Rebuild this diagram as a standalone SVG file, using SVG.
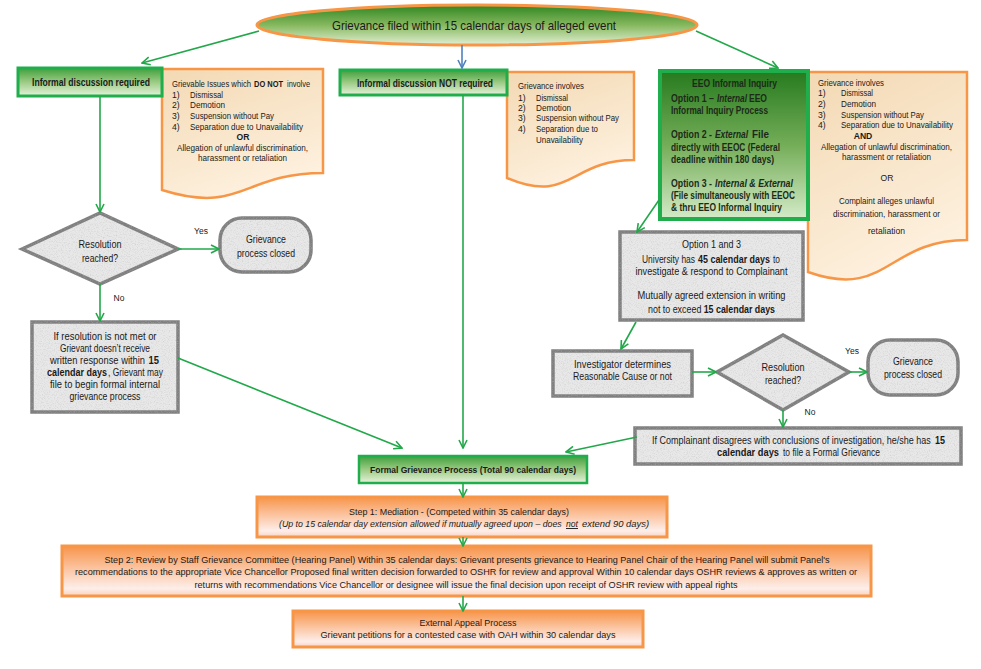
<svg xmlns="http://www.w3.org/2000/svg" width="981" height="669" viewBox="0 0 981 669">
<defs>
<style>
text{font-family:"Liberation Sans",Arial,sans-serif;fill:#1a1a1a}
.c{text-anchor:middle}
.b{font-weight:bold}
.i{font-style:italic}
.u{text-decoration:underline}
.f8{font-size:8.6px}
.f9{font-size:9.4px}
.f10{font-size:10.3px}
.eeo{font-size:10.3px;font-weight:bold;fill:#1c2a18}
.doc{fill:url(#gDoc);stroke:#f79646;stroke-width:2.5}
.gbox{fill:url(#gGreen);stroke:#1fae4b;stroke-width:3}
.gray{fill:#e8e8e8;stroke:#7f7f7f;stroke-width:3.5;filter:url(#tex)}
.orng{fill:url(#gOrange);stroke:#f79646;stroke-width:3}
.con{fill:none;stroke:#22a84a;stroke-width:1.6;marker-end:url(#ah)}
</style>
<linearGradient id="gGreen" x1="0" y1="0" x2="0" y2="1">
<stop offset="0" stop-color="#3f9f3c"/><stop offset="0.5" stop-color="#9ccb84"/><stop offset="1" stop-color="#e6f2dc"/>
</linearGradient>
<linearGradient id="gEll" x1="0" y1="0" x2="0" y2="1">
<stop offset="0" stop-color="#2f8521"/><stop offset="0.5" stop-color="#86b85e"/><stop offset="1" stop-color="#e2efd4"/>
</linearGradient>
<linearGradient id="gEEO" x1="0" y1="0" x2="0" y2="1">
<stop offset="0" stop-color="#267a1e"/><stop offset="0.5" stop-color="#74ad58"/><stop offset="1" stop-color="#d4ebc8"/>
</linearGradient>
<linearGradient id="gDoc" x1="0" y1="0" x2="0.4" y2="1">
<stop offset="0" stop-color="#f3d9b4"/><stop offset="1" stop-color="#fdf0dd"/>
</linearGradient>
<linearGradient id="gOrange" x1="0" y1="0" x2="0" y2="1">
<stop offset="0" stop-color="#f7944a"/><stop offset="0.45" stop-color="#fbc4a0"/><stop offset="0.85" stop-color="#fdeeea"/><stop offset="1" stop-color="#fad2bd"/>
</linearGradient>
<filter id="tex" x="-5%" y="-5%" width="110%" height="110%">
<feTurbulence type="fractalNoise" baseFrequency="0.85" numOctaves="3" seed="7" result="n"/>
<feColorMatrix in="n" type="matrix" values="0 0 0 0 0.45  0 0 0 0 0.45  0 0 0 0 0.45  1.0 0 0 0 -0.45" result="s"/>
<feComposite in="s" in2="SourceGraphic" operator="in" result="sc"/>
<feMerge><feMergeNode in="SourceGraphic"/><feMergeNode in="sc"/></feMerge>
</filter>
<marker id="ah" viewBox="0 0 10 10" refX="9" refY="5" markerWidth="10" markerHeight="10" markerUnits="userSpaceOnUse" orient="auto">
<path d="M1,1 L9,5 L1,9" fill="none" stroke="#22a84a" stroke-width="1.6"/>
</marker>
<marker id="ahB" viewBox="0 0 10 10" refX="9" refY="5" markerWidth="10" markerHeight="10" markerUnits="userSpaceOnUse" orient="auto">
<path d="M1,1 L9,5 L1,9" fill="none" stroke="#4f81bd" stroke-width="1.6"/>
</marker>
</defs>
<rect width="981" height="669" fill="#ffffff"/>

<g id="start">
<ellipse cx="477" cy="25" rx="220" ry="20" fill="url(#gEll)" stroke="#f79646" stroke-width="3"/>
<text class="c" x="474" y="29.5" font-size="13" textLength="284" lengthAdjust="spacingAndGlyphs">Grievance filed within 15 calendar days of alleged event</text>
</g>

<g id="doc1">
<path class="doc" d="M162,69 H323 V173 C242,173 242,215 162,190 Z"/>
<text class="f8" transform="translate(172,87) scale(0.83,1)" textLength="95.2" lengthAdjust="spacingAndGlyphs">Grievable Issues which</text>
<text class="f8 b" transform="translate(254,87) scale(0.8,1)" textLength="36.3" lengthAdjust="spacingAndGlyphs">DO NOT</text>
<text class="f8" transform="translate(287,87) scale(0.79,1)" textLength="29.1" lengthAdjust="spacingAndGlyphs">involve</text>
<text class="f8" x="172" y="98">1)</text><text class="f8" x="190" y="98" textLength="33" lengthAdjust="spacingAndGlyphs">Dismissal</text>
<text class="f8" x="172" y="108">2)</text><text class="f8" x="190" y="108" textLength="35" lengthAdjust="spacingAndGlyphs">Demotion</text>
<text class="f8" x="172" y="119">3)</text><text class="f8" x="190" y="119" textLength="84" lengthAdjust="spacingAndGlyphs">Suspension without Pay</text>
<text class="f8" x="172" y="130">4)</text><text class="f8" x="190" y="130" textLength="113" lengthAdjust="spacingAndGlyphs">Separation due to Unavailability</text>
<text class="f8 c b" x="243" y="140">OR</text>
<text class="f8 c" x="242.5" y="151" textLength="131" lengthAdjust="spacingAndGlyphs">Allegation of unlawful discrimination,</text>
<text class="f8 c" x="242.5" y="161" textLength="89" lengthAdjust="spacingAndGlyphs">harassment or retaliation</text>
</g>

<g id="informal-required">
<rect class="gbox" x="18" y="68" width="144" height="28"/>
<text class="c b" x="91" y="85.5" font-size="10" textLength="118" lengthAdjust="spacingAndGlyphs">Informal discussion required</text>
</g>

<g id="doc2">
<path class="doc" d="M507,72 H634 V160 C570,160 570,205 507,178 Z"/>
<text class="f8" x="518" y="89" textLength="66" lengthAdjust="spacingAndGlyphs">Grievance involves</text>
<text class="f8" x="518" y="101">1)</text><text class="f8" x="536" y="101" textLength="32" lengthAdjust="spacingAndGlyphs">Dismissal</text>
<text class="f8" x="518" y="111">2)</text><text class="f8" x="536" y="111" textLength="35" lengthAdjust="spacingAndGlyphs">Demotion</text>
<text class="f8" x="518" y="121">3)</text><text class="f8" x="536" y="121" textLength="83" lengthAdjust="spacingAndGlyphs">Suspension without Pay</text>
<text class="f8" x="518" y="132">4)</text><text class="f8" x="536" y="132" textLength="62" lengthAdjust="spacingAndGlyphs">Separation due to</text>
<text class="f8" x="536" y="143" textLength="47" lengthAdjust="spacingAndGlyphs">Unavailability</text>
</g>

<g id="informal-not-required">
<rect class="gbox" x="340" y="70" width="167" height="25"/>
<text class="c b" x="425" y="86.5" font-size="10" textLength="136" lengthAdjust="spacingAndGlyphs">Informal discussion NOT required</text>
</g>

<g id="doc3">
<path class="doc" d="M808,72 H967 V240 C887,240 887,300 808,272 Z"/>
<text class="f8" x="818" y="86" textLength="66" lengthAdjust="spacingAndGlyphs">Grievance involves</text>
<text class="f8" x="818" y="96">1)</text><text class="f8" x="841" y="96" textLength="32" lengthAdjust="spacingAndGlyphs">Dismissal</text>
<text class="f8" x="818" y="107">2)</text><text class="f8" x="841" y="107" textLength="35" lengthAdjust="spacingAndGlyphs">Demotion</text>
<text class="f8" x="818" y="118">3)</text><text class="f8" x="841" y="118" textLength="83" lengthAdjust="spacingAndGlyphs">Suspension without Pay</text>
<text class="f8" x="818" y="128">4)</text><text class="f8" x="841" y="128" textLength="112" lengthAdjust="spacingAndGlyphs">Separation due to Unavailability</text>
<text class="f8 c b" x="863" y="139">AND</text>
<text class="f8 c" x="886.5" y="150" textLength="131" lengthAdjust="spacingAndGlyphs">Allegation of unlawful discrimination,</text>
<text class="f8 c" x="886.5" y="160" textLength="89" lengthAdjust="spacingAndGlyphs">harassment or retaliation</text>
<text class="f8 c" x="887" y="181">OR</text>
<text class="f8 c" x="886.5" y="204" textLength="95" lengthAdjust="spacingAndGlyphs">Complaint alleges unlawful</text>
<text class="f8 c" x="886.5" y="217" textLength="107" lengthAdjust="spacingAndGlyphs">discrimination, harassment or</text>
<text class="f8 c" x="886.5" y="234" textLength="37" lengthAdjust="spacingAndGlyphs">retaliation</text>
</g>

<g id="eeo">
<rect x="660" y="71" width="148" height="148" fill="url(#gEEO)" stroke="#1fae4b" stroke-width="4"/>
<text class="eeo c" x="734.5" y="87" textLength="85" lengthAdjust="spacingAndGlyphs">EEO Informal Inquiry</text>
<text class="eeo" transform="translate(671,102) scale(0.785,1)" textLength="54.8" lengthAdjust="spacingAndGlyphs">Option 1 –</text>
<text class="eeo i" transform="translate(717,102) scale(0.74,1)" textLength="40.5" lengthAdjust="spacingAndGlyphs">Internal</text>
<text class="eeo" transform="translate(749,102) scale(0.76,1)" textLength="23.7" lengthAdjust="spacingAndGlyphs">EEO</text>
<text class="eeo" x="671" y="114" textLength="97" lengthAdjust="spacingAndGlyphs">Informal Inquiry Process</text>
<text class="eeo" transform="translate(671,138) scale(0.785,1)" textLength="52.2" lengthAdjust="spacingAndGlyphs">Option 2 -</text>
<text class="eeo i" transform="translate(715,138) scale(0.745,1)" textLength="44.3" lengthAdjust="spacingAndGlyphs">External</text>
<text class="eeo" transform="translate(752,138) scale(0.88,1)" textLength="19.3" lengthAdjust="spacingAndGlyphs">File</text>
<text class="eeo" x="671" y="151" textLength="109" lengthAdjust="spacingAndGlyphs">directly with EEOC (Federal</text>
<text class="eeo" x="671" y="163" textLength="103" lengthAdjust="spacingAndGlyphs">deadline within 180 days)</text>
<text class="eeo" transform="translate(671,187) scale(0.785,1)" textLength="52.2" lengthAdjust="spacingAndGlyphs">Option 3 -</text>
<text class="eeo i" transform="translate(715,187) scale(0.79,1)" textLength="98.7" lengthAdjust="spacingAndGlyphs">Internal &amp; External</text>
<text class="eeo" x="671" y="199" textLength="124" lengthAdjust="spacingAndGlyphs">(File simultaneously with EEOC</text>
<text class="eeo" x="671" y="211" textLength="111" lengthAdjust="spacingAndGlyphs">&amp; thru EEO Informal Inquiry</text>
</g>

<g id="decision1">
<polygon class="gray" points="22,249 100,213 178,249 100,284"/>
<text class="f10 c" x="100" y="248" textLength="43" lengthAdjust="spacingAndGlyphs">Resolution</text>
<text class="f10 c" x="100" y="262" textLength="36" lengthAdjust="spacingAndGlyphs">reached?</text>
</g>

<g id="closed1">
<rect class="gray" x="220" y="218" width="91" height="54" rx="22"/>
<text class="f10 c" x="266" y="243" textLength="40" lengthAdjust="spacingAndGlyphs">Grievance</text>
<text class="f10 c" x="266" y="257" textLength="58" lengthAdjust="spacingAndGlyphs">process closed</text>
</g>

<g id="no-resolution">
<rect class="gray" x="32" y="322" width="146" height="90" stroke-width="4"/>
<text class="f10 c" x="105" y="340" textLength="103" lengthAdjust="spacingAndGlyphs">If resolution is not met or</text>
<text class="f10 c" x="105" y="352" textLength="90" lengthAdjust="spacingAndGlyphs">Grievant doesn’t receive</text>
<text class="f10" transform="translate(50,364) scale(0.835,1)" textLength="113.8" lengthAdjust="spacingAndGlyphs">written response within</text>
<text class="f10 b" transform="translate(148.5,364) scale(0.8,1)" textLength="13.1" lengthAdjust="spacingAndGlyphs">15</text>
<text class="f10 b" transform="translate(47,376) scale(0.8,1)" textLength="75" lengthAdjust="spacingAndGlyphs">calendar days</text>
<text class="f10" transform="translate(108,376) scale(0.755,1)" textLength="72.8" lengthAdjust="spacingAndGlyphs">, Grievant may</text>
<text class="f10 c" x="105" y="388" textLength="110" lengthAdjust="spacingAndGlyphs">file to begin formal internal</text>
<text class="f10 c" x="105" y="400" textLength="71" lengthAdjust="spacingAndGlyphs">grievance process</text>
</g>

<g id="option13">
<rect class="gray" x="620" y="232" width="183" height="88" stroke-width="4"/>
<text class="f10 c" x="711.5" y="248" textLength="59" lengthAdjust="spacingAndGlyphs">Option 1 and 3</text>
<text class="f10" transform="translate(642,263) scale(0.754,1)" textLength="70.3" lengthAdjust="spacingAndGlyphs">University has</text>
<text class="f10 b" transform="translate(698,263) scale(0.742,1)" textLength="97" lengthAdjust="spacingAndGlyphs">45 calendar days</text>
<text class="f10" transform="translate(773,263) scale(0.75,1)" textLength="9.3" lengthAdjust="spacingAndGlyphs">to</text>
<text class="f10 c" x="711.5" y="275" textLength="152" lengthAdjust="spacingAndGlyphs">investigate &amp; respond to Complainant</text>
<text class="f10 c" x="711.5" y="299" textLength="148" lengthAdjust="spacingAndGlyphs">Mutually agreed extension in writing</text>
<text class="f10" transform="translate(648,313) scale(0.79,1)" textLength="67.5" lengthAdjust="spacingAndGlyphs">not to exceed</text>
<text class="f10 b" transform="translate(703.7,313) scale(0.79,1)" textLength="90.3" lengthAdjust="spacingAndGlyphs">15 calendar days</text>
</g>

<g id="investigator">
<rect class="gray" x="553" y="351" width="139" height="45"/>
<text class="f10 c" x="622.5" y="368" textLength="97" lengthAdjust="spacingAndGlyphs">Investigator determines</text>
<text class="f10 c" x="622.5" y="380" textLength="99" lengthAdjust="spacingAndGlyphs">Reasonable Cause or not</text>
</g>

<g id="decision2">
<polygon class="gray" points="717,372 783,335 849,372 783,410"/>
<text class="f10 c" x="783" y="371" textLength="43" lengthAdjust="spacingAndGlyphs">Resolution</text>
<text class="f10 c" x="783" y="384" textLength="36" lengthAdjust="spacingAndGlyphs">reached?</text>
</g>

<g id="closed2">
<rect class="gray" x="868" y="340" width="90" height="55" rx="22"/>
<text class="f10 c" x="913" y="365" textLength="40" lengthAdjust="spacingAndGlyphs">Grievance</text>
<text class="f10 c" x="913" y="378" textLength="58" lengthAdjust="spacingAndGlyphs">process closed</text>
</g>

<g id="complainant">
<rect class="gray" x="635" y="428" width="326" height="36" stroke-width="4"/>
<text class="f10" transform="translate(652,444) scale(0.77,1)" textLength="362" lengthAdjust="spacingAndGlyphs">If Complainant disagrees with conclusions of investigation, he/she has</text>
<text class="f10 b" transform="translate(935,444) scale(0.75,1)" textLength="13.3" lengthAdjust="spacingAndGlyphs">15</text>
<text class="f10 b" transform="translate(717,456) scale(0.83,1)" textLength="74.7" lengthAdjust="spacingAndGlyphs">calendar days</text>
<text class="f10" transform="translate(783,456) scale(0.74,1)" textLength="131" lengthAdjust="spacingAndGlyphs">to file a Formal Grievance</text>
</g>

<g id="formal">
<rect x="359" y="456" width="228" height="27" fill="url(#gGreen)" stroke="#1fae4b" stroke-width="2.5"/>
<text class="f9 c b" x="473" y="472.5" textLength="206" lengthAdjust="spacingAndGlyphs">Formal Grievance Process (Total 90 calendar days)</text>
</g>

<g id="step1">
<rect class="orng" x="257" y="497" width="410" height="40"/>
<text class="f9 c" x="459" y="515" textLength="220" lengthAdjust="spacingAndGlyphs">Step 1:  Mediation - (Competed within 35 calendar days)</text>
<text class="f9 i" transform="translate(279,527) scale(0.81,1)" textLength="349" lengthAdjust="spacingAndGlyphs">(Up to 15 calendar day extension allowed if mutually agreed upon – does</text>
<text class="f9 i u" transform="translate(566,527) scale(0.85,1)" textLength="14.1" lengthAdjust="spacingAndGlyphs">not</text>
<text class="f9 i" transform="translate(582,527) scale(0.98,1)" textLength="68.4" lengthAdjust="spacingAndGlyphs">extend 90 days)</text>
</g>

<g id="step2">
<rect class="orng" x="62" y="546" width="809" height="50"/>
<text class="f9 c" x="467" y="563" textLength="725" lengthAdjust="spacingAndGlyphs">Step 2:  Review by Staff Grievance Committee (Hearing Panel) Within 35 calendar days: Grievant presents grievance to Hearing Panel Chair of the Hearing Panel will submit Panel's</text>
<text class="f9 c" x="466" y="575" textLength="782" lengthAdjust="spacingAndGlyphs">recommendations to the appropriate Vice Chancellor Proposed final written decision forwarded to OSHR for review and approval Within 10 calendar days OSHR reviews &amp; approves as written or</text>
<text class="f9 c" x="466" y="588" textLength="543" lengthAdjust="spacingAndGlyphs">returns with recommendations Vice Chancellor or designee will issue the final decision upon receipt of OSHR review with appeal rights</text>
</g>

<g id="appeal">
<rect class="orng" x="293" y="611" width="350" height="36"/>
<text class="f9 c" x="468" y="626" textLength="97" lengthAdjust="spacingAndGlyphs">External Appeal Process</text>
<text class="f9 c" x="468" y="638" textLength="295" lengthAdjust="spacingAndGlyphs">Grievant petitions for a contested case with OAH within 30 calendar days</text>
</g>

<g id="connectors">
<line class="con" x1="259" y1="31" x2="142" y2="63"/>
<line x1="462" y1="45" x2="462" y2="68" stroke="#4f81bd" stroke-width="1.6" marker-end="url(#ahB)"/>
<line class="con" x1="696" y1="31" x2="778" y2="68"/>
<line class="con" x1="100" y1="96" x2="100" y2="212"/>
<line class="con" x1="178" y1="249" x2="219" y2="249"/>
<line class="con" x1="100" y1="284" x2="100" y2="321"/>
<line class="con" x1="178" y1="358" x2="402" y2="448"/>
<line class="con" x1="463" y1="95" x2="463" y2="448"/>
<line class="con" x1="659" y1="200" x2="637" y2="232"/>
<line class="con" x1="636" y1="322" x2="621" y2="349"/>
<line class="con" x1="692" y1="372" x2="716" y2="372"/>
<line class="con" x1="849" y1="372" x2="867" y2="372"/>
<line class="con" x1="783" y1="410" x2="783" y2="427"/>
<line class="con" x1="637" y1="437" x2="566" y2="452"/>
<line class="con" x1="463" y1="483" x2="463" y2="497"/>
<line class="con" x1="463" y1="537" x2="463" y2="546"/>
<line class="con" x1="463" y1="596" x2="463" y2="611"/>
</g>
<g id="labels">
<text class="c" x="201" y="234" font-size="8.5">Yes</text>
<text class="c" x="119" y="301" font-size="8.5">No</text>
<text class="c" x="852" y="354" font-size="8.5">Yes</text>
<text class="c" x="810" y="415" font-size="8.5">No</text>
</g>
</svg>
